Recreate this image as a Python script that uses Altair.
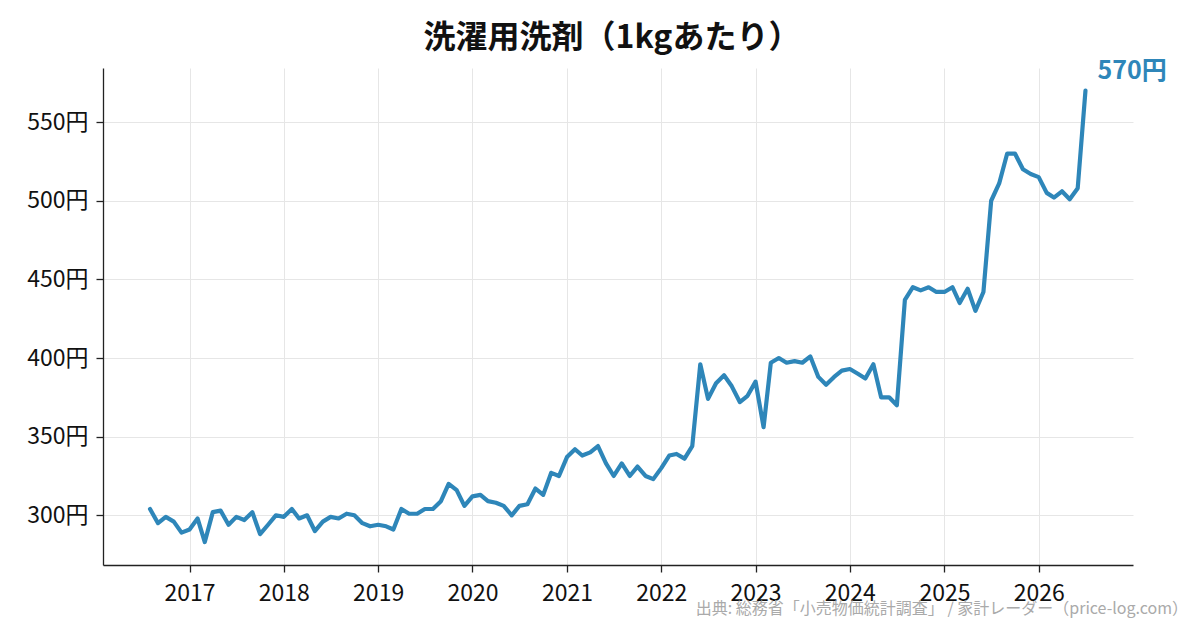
import altair as alt
import pandas as pd

# 月次データ（2016年8月〜2026年7月）
months = pd.date_range(start="2016-08-01", periods=120, freq="MS")
prices = [
    # 2016
    304, 295, 299, 296, 289,
    # 2017
    291, 298, 283, 302, 303, 294, 299, 297, 302, 288, 294, 300,
    # 2018
    299, 304, 298, 300, 290, 296, 299, 298, 301, 300, 295, 293,
    # 2019
    294, 293, 291, 304, 301, 301, 304, 304, 309, 320, 316, 306,
    # 2020
    312, 313, 309, 308, 306, 300, 306, 307, 317, 313, 327, 325,
    # 2021
    337, 342, 338, 340, 344, 333, 325, 333, 325, 331, 325, 323,
    # 2022
    330, 338, 339, 336, 344, 396, 374, 384, 389, 382, 372, 376,
    # 2023
    385, 356, 397, 400, 397, 398, 397, 401, 388, 383, 388, 392,
    # 2024
    393, 390, 387, 396, 375, 375, 370, 437, 445, 443, 445, 442,
    # 2025
    442, 445, 435, 444, 430, 442, 500, 511, 530, 530, 520, 517,
    # 2026
    515, 505, 502, 506, 501, 508, 570,
]
year_ticks = [f"{y}-01-01" for y in range(2017, 2027)]
price_ticks = [300, 350, 400, 450, 500, 550]

title = "洗濯用洗剤（1kgあたり）"
source = "出典: 総務省「小売物価統計調査」 / 家計レーダー（price-log.com）"

df = pd.DataFrame({"月": months, "価格": prices})
last = df.tail(1).assign(ラベル=lambda d: d["価格"].astype(int).astype(str) + "円")

FONT = "Noto Sans CJK JP"
BLUE = "#2e86b9"

x_enc = alt.X(
    "月:T",
    scale=alt.Scale(domain=["2016-02-01", "2027-01-01"]),
    axis=alt.Axis(values=year_ticks, format="%Y", title=None, labelPadding=10),
)
y_enc = alt.Y(
    "価格:Q",
    scale=alt.Scale(domain=[268.4, 584.4], nice=False, zero=False),
    axis=alt.Axis(values=price_ticks, labelExpr="datum.value + '円'", title=None,
                  labelPadding=8),
)

line = alt.Chart(df).mark_line(
    color=BLUE, strokeWidth=4.2, strokeJoin="round", strokeCap="round"
).encode(x=x_enc, y=y_enc)

label = alt.Chart(last).mark_text(
    align="left", baseline="alphabetic", dx=12, dy=-12,
    fontSize=25, fontWeight="bold", color=BLUE, font=FONT,
).encode(x="月:T", y="価格:Q", text="ラベル:N")

footer = alt.Chart(pd.DataFrame({"t": [source]})).mark_text(
    align="right", baseline="middle", fontSize=16, color="#aaaaaa", font=FONT,
).encode(x=alt.value(1085), y=alt.value(541), text="t:N")

chart = alt.layer(line, label, footer).properties(
    width=1030,
    height=497,
    autosize=alt.AutoSizeParams(type="none"),
    padding={"left": 95, "top": 60, "right": 59, "bottom": 57},
    title=alt.TitleParams(
        title, fontSize=32, fontWeight="bold", font=FONT, color="#111111",
        anchor="middle", offset=4, dx=-6,
    ),
).configure_view(
    stroke=None
).configure_axis(
    labelFont=FONT,
    labelFontSize=23,
    labelColor="#111111",
    gridColor="#e6e6e6",
    gridWidth=1,
    domainColor="#222222",
    domainWidth=1.3,
    tickColor="#222222",
    tickSize=7,
    tickWidth=1.3,
)

chart.save("out.html", embed_options={"renderer": "svg", "actions": False})
